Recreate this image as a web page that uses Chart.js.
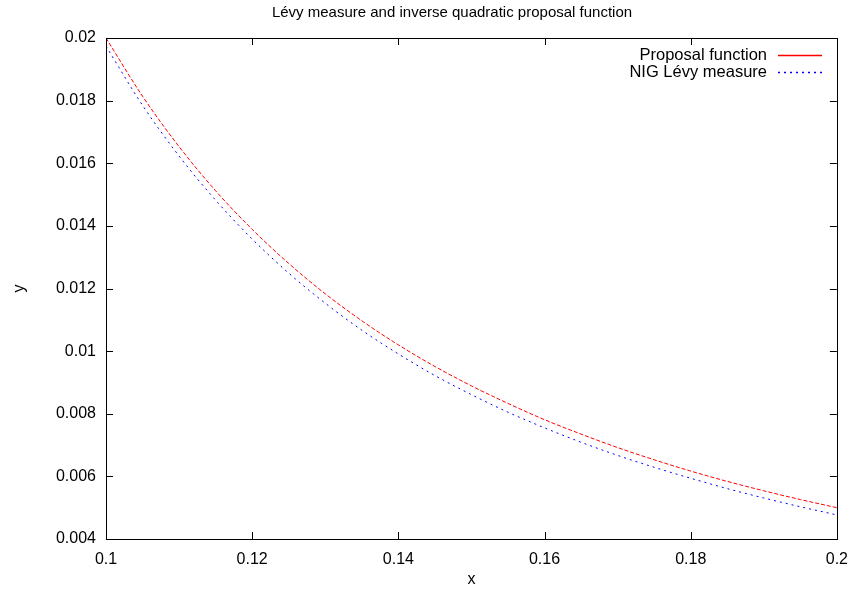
<!DOCTYPE html>
<html>
<head>
<meta charset="utf-8">
<script src="https://cdn.jsdelivr.net/npm/chart.js@4"></script>
<style>
  html, body { margin: 0; padding: 0; background: #fff; }
  #wrap { width: 859px; height: 589px; }
</style>
</head>
<body>
<div id="wrap"><canvas id="c" width="859" height="589"></canvas></div>
<script>
// Sample abscissae
const xValues = [0.100, 0.105, 0.110, 0.115, 0.120, 0.125, 0.130, 0.135, 0.140, 0.145,
                 0.150, 0.155, 0.160, 0.165, 0.170, 0.175, 0.180, 0.185, 0.190, 0.195, 0.200];

// Inverse quadratic proposal function
const proposalValues = [0.02000, 0.01814, 0.01653, 0.01512, 0.01389, 0.01280, 0.01183, 0.01097,
                        0.01020, 0.00951, 0.00889, 0.00833, 0.00781, 0.00735, 0.00692, 0.00653,
                        0.00617, 0.00584, 0.00554, 0.00526, 0.00500];

// NIG Lévy measure density
const levyValues = [0.01974, 0.01785, 0.01623, 0.01482, 0.01358, 0.01249, 0.01153, 0.01067,
                    0.00991, 0.00922, 0.00861, 0.00805, 0.00755, 0.00709, 0.00667, 0.00629,
                    0.00594, 0.00561, 0.00531, 0.00503, 0.00477];

const xTicks = [0.10, 0.12, 0.14, 0.16, 0.18, 0.20];
const xTickLabels = ['0.1', '0.12', '0.14', '0.16', '0.18', '0.2'];
const yTicks = [0.004, 0.006, 0.008, 0.010, 0.012, 0.014, 0.016, 0.018, 0.020];
const yTickLabels = ['0.004', '0.006', '0.008', '0.01', '0.012', '0.014', '0.016', '0.018', '0.02'];

const seriesNames = ['Proposal function', 'NIG Lévy measure'];
const seriesColors = ['#ff0000', '#0000ff'];
const chartTitle = 'Lévy measure and inverse quadratic proposal function';

const FONT = '"Liberation Sans", Arial, Helvetica, sans-serif';

function toPoints(ys) {
  return xValues.map((x, i) => ({ x: x, y: ys[i] }));
}

// Frame, inward mirrored ticks, title and key, drawn over the chart area
const framePlugin = {
  id: 'frame',
  afterDraw(chart) {
    const { ctx, chartArea: a, scales } = chart;
    const tl = 7;
    ctx.save();
    ctx.setLineDash([]);
    ctx.strokeStyle = '#000';
    ctx.lineWidth = 1;
    ctx.beginPath();
    xTicks.forEach(v => {
      const px = Math.round(scales.x.getPixelForValue(v)) + 0.5;
      ctx.moveTo(px, a.bottom); ctx.lineTo(px, a.bottom - tl);
      ctx.moveTo(px, a.top); ctx.lineTo(px, a.top + tl);
    });
    yTicks.forEach(v => {
      const py = Math.round(scales.y.getPixelForValue(v)) + 0.5;
      ctx.moveTo(a.left, py); ctx.lineTo(a.left + tl, py);
      ctx.moveTo(a.right, py); ctx.lineTo(a.right - tl, py);
    });
    ctx.stroke();
    ctx.strokeRect(Math.round(a.left) + 0.5, Math.round(a.top) + 0.5,
                   Math.round(a.right - a.left), Math.round(a.bottom - a.top));

    // title
    ctx.fillStyle = '#000';
    ctx.font = '15px ' + FONT;
    ctx.textAlign = 'center';
    ctx.textBaseline = 'middle';
    ctx.fillText(chartTitle, 452, 13);

    // key
    ctx.font = '16.5px ' + FONT;
    ctx.textAlign = 'right';
    const keyText = 767, keyL = 778, keyR = 822;
    const rows = [55, 72];
    seriesNames.forEach((name, i) => {
      ctx.fillStyle = '#000';
      ctx.fillText(name, keyText, rows[i]);
    });
    seriesNames.forEach((name, i) => {
      ctx.beginPath();
      ctx.strokeStyle = seriesColors[i];
      ctx.lineWidth = 1.4;
      ctx.setLineDash(i === 0 ? [] : [2, 4]);
      ctx.moveTo(keyL, rows[i] + 0.5);
      ctx.lineTo(keyR, rows[i] + 0.5);
      ctx.stroke();
    });
    ctx.setLineDash([]);
    ctx.restore();
  }
};

new Chart(document.getElementById('c'), {
  type: 'line',
  data: {
    datasets: [
      {
        label: seriesNames[0],
        data: toPoints(proposalValues),
        borderColor: seriesColors[0],
        borderWidth: 1,
        borderDash: [4, 2],
        pointRadius: 0,
        cubicInterpolationMode: 'monotone',
        fill: false
      },
      {
        label: seriesNames[1],
        data: toPoints(levyValues),
        borderColor: seriesColors[1],
        borderWidth: 1,
        borderDash: [2, 4],
        pointRadius: 0,
        cubicInterpolationMode: 'monotone',
        fill: false
      }
    ]
  },
  options: {
    responsive: false,
    animation: false,
    devicePixelRatio: 1,
    layout: { padding: { top: 38, right: 17, left: 0, bottom: 0 } },
    plugins: {
      legend: { display: false },
      title: { display: false },
      tooltip: { enabled: false }
    },
    scales: {
      x: {
        type: 'linear',
        min: 0.1,
        max: 0.2,
        afterBuildTicks(scale) { scale.ticks = xTicks.map(v => ({ value: v })); },
        afterFit(scale) { scale.height = 50; },
        grid: { display: false, drawTicks: false },
        border: { display: false },
        ticks: {
          color: '#000',
          font: { family: FONT, size: 16 },
          padding: 11,
          maxRotation: 0,
          autoSkip: false,
          callback(value, index) { return xTickLabels[index]; }
        },
        title: {
          display: true,
          text: 'x',
          color: '#000',
          font: { family: FONT, size: 16 },
          padding: { top: 0, bottom: 0 }
        }
      },
      y: {
        type: 'linear',
        min: 0.004,
        max: 0.02,
        afterBuildTicks(scale) { scale.ticks = yTicks.map(v => ({ value: v })); },
        afterFit(scale) { scale.width = 106; },
        grid: { display: false, drawTicks: false },
        border: { display: false },
        ticks: {
          color: '#000',
          font: { family: FONT, size: 16 },
          padding: 10,
          autoSkip: false,
          callback(value, index) { return yTickLabels[index]; }
        },
        title: {
          display: true,
          text: 'y',
          color: '#000',
          font: { family: FONT, size: 16 },
          padding: { top: 10, bottom: 0 }
        }
      }
    }
  },
  plugins: [framePlugin]
});
</script>
</body>
</html>
